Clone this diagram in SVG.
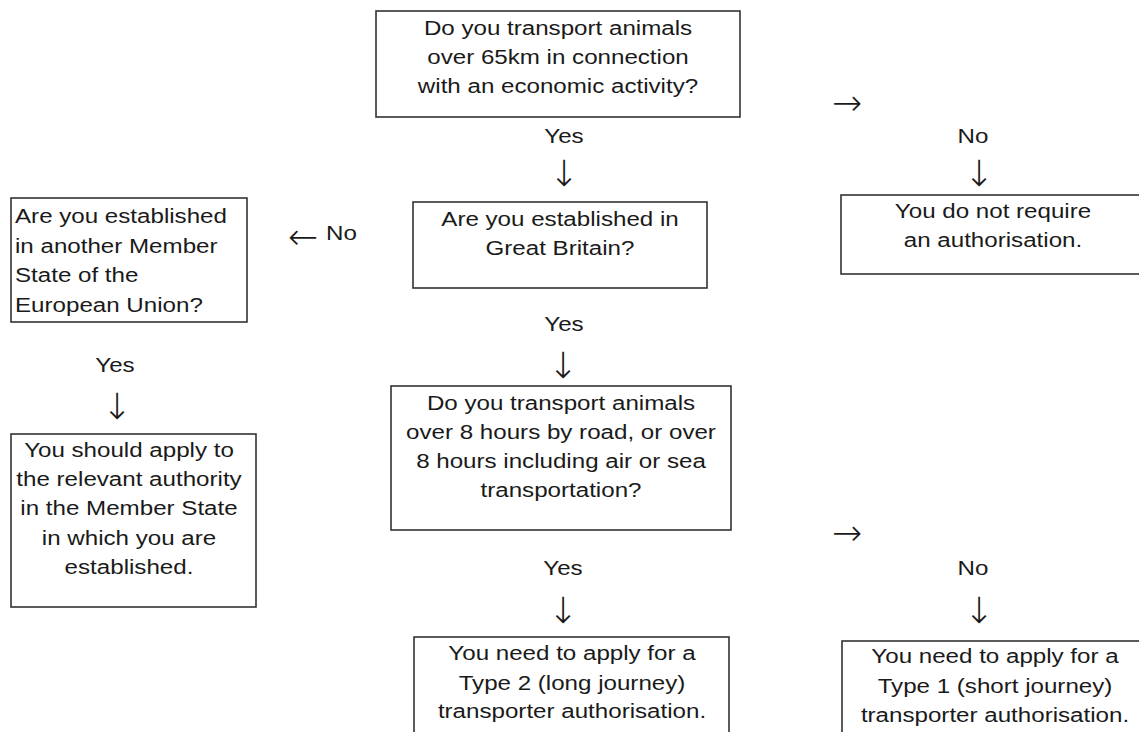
<svg xmlns="http://www.w3.org/2000/svg" width="1139" height="732" viewBox="0 0 1139 732">
<style>
text{font-family:"Liberation Sans",Arial,sans-serif;font-size:21px;fill:#1a1a1a}
.c{text-anchor:middle}
.box{fill:#fff;stroke:#333;stroke-width:1.6}
.arr{font-family:"DejaVu Sans",sans-serif;font-weight:200;font-size:36px;fill:#1a1a1a}
</style>
<rect width="1139" height="732" fill="#fff"/>
<g id="q1">
<rect class="box" x="376" y="11" width="364" height="106"/>
<g transform="translate(558,0) scale(1.15,1)">
<text class="c" x="0" y="35">Do you transport animals</text>
<text class="c" x="0" y="64">over 65km in connection</text>
<text class="c" x="0" y="93">with an economic activity?</text>
</g>
</g>
<g id="noauth">
<rect class="box" x="841" y="195" width="310" height="79"/>
<g transform="translate(993,0) scale(1.15,1)">
<text class="c" x="0" y="218">You do not require</text>
<text class="c" x="0" y="247">an authorisation.</text>
</g>
</g>
<g id="q2">
<rect class="box" x="413" y="202" width="294" height="86"/>
<g transform="translate(560,0) scale(1.15,1)">
<text class="c" x="0" y="226">Are you established in</text>
<text class="c" x="0" y="255">Great Britain?</text>
</g>
</g>
<g id="q3">
<rect class="box" x="11" y="198" width="236" height="124"/>
<g transform="translate(15,0) scale(1.15,1)">
<text x="0" y="223">Are you established</text>
<text x="0" y="253">in another Member</text>
<text x="0" y="282">State of the</text>
<text x="0" y="312">European Union?</text>
</g>
</g>
<g id="eu">
<rect class="box" x="11" y="434" width="245" height="173"/>
<g transform="translate(129,0) scale(1.15,1)">
<text class="c" x="0" y="457">You should apply to</text>
<text class="c" x="0" y="486">the relevant authority</text>
<text class="c" x="0" y="515">in the Member State</text>
<text class="c" x="0" y="545">in which you are</text>
<text class="c" x="0" y="574">established.</text>
</g>
</g>
<g id="q4">
<rect class="box" x="391" y="386" width="340" height="144"/>
<g transform="translate(561,0) scale(1.15,1)">
<text class="c" x="0" y="410">Do you transport animals</text>
<text class="c" x="0" y="439">over 8 hours by road, or over</text>
<text class="c" x="0" y="468">8 hours including air or sea</text>
<text class="c" x="0" y="497">transportation?</text>
</g>
</g>
<g id="type2">
<rect class="box" x="414" y="637" width="315" height="110"/>
<g transform="translate(572,0) scale(1.15,1)">
<text class="c" x="0" y="660">You need to apply for a</text>
<text class="c" x="0" y="690">Type 2 (long journey)</text>
<text class="c" x="0" y="718">transporter authorisation.</text>
</g>
</g>
<g id="type1">
<rect class="box" x="842" y="641" width="310" height="110"/>
<g transform="translate(995,0) scale(1.15,1)">
<text class="c" x="0" y="663">You need to apply for a</text>
<text class="c" x="0" y="693">Type 1 (short journey)</text>
<text class="c" x="0" y="722">transporter authorisation.</text>
</g>
</g>
<g id="connectors">
<g transform="translate(564,0) scale(1.15,1)"><text class="c" x="0" y="143">Yes</text></g>
<text class="c arr" x="564" y="186">↓</text>
<text class="c arr" x="847" y="115">→</text>
<g transform="translate(973,0) scale(1.15,1)"><text class="c" x="0" y="143">No</text></g>
<text class="c arr" x="979" y="186">↓</text>
<text class="arr" x="288" y="249">←</text>
<g transform="translate(326,0) scale(1.15,1)"><text x="0" y="240">No</text></g>
<g transform="translate(564,0) scale(1.15,1)"><text class="c" x="0" y="331">Yes</text></g>
<text class="c arr" x="563" y="378">↓</text>
<g transform="translate(115,0) scale(1.15,1)"><text class="c" x="0" y="372">Yes</text></g>
<text class="c arr" x="117" y="419">↓</text>
<text class="c arr" x="847" y="545">→</text>
<g transform="translate(563,0) scale(1.15,1)"><text class="c" x="0" y="575">Yes</text></g>
<text class="c arr" x="563" y="623">↓</text>
<g transform="translate(973,0) scale(1.15,1)"><text class="c" x="0" y="575">No</text></g>
<text class="c arr" x="979" y="623">↓</text>
</g>
</svg>
